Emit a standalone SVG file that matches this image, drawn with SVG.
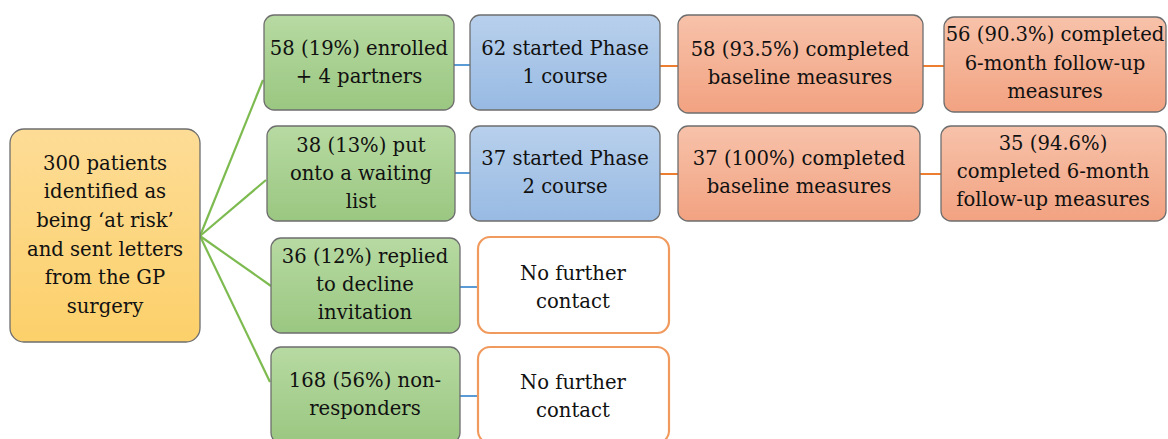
<svg xmlns="http://www.w3.org/2000/svg" width="1168" height="439" viewBox="0 0 1168 439">
<defs>
<linearGradient id="gY" x1="0" y1="0" x2="0" y2="1"><stop offset="0" stop-color="#fddc96"/><stop offset="1" stop-color="#fcd06a"/></linearGradient>
<linearGradient id="gG" x1="0" y1="0" x2="0" y2="1"><stop offset="0" stop-color="#b7daa2"/><stop offset="1" stop-color="#9ac781"/></linearGradient>
<linearGradient id="gB" x1="0" y1="0" x2="0" y2="1"><stop offset="0" stop-color="#b8d0ec"/><stop offset="1" stop-color="#98bae3"/></linearGradient>
<linearGradient id="gS" x1="0" y1="0" x2="0" y2="1"><stop offset="0" stop-color="#f7c2aa"/><stop offset="1" stop-color="#f2a281"/></linearGradient>
</defs>
<style>
.n{stroke:#6e6e6e;stroke-width:1.3}
.y{fill:url(#gY)}
.g{fill:url(#gG)}
.b{fill:url(#gB)}
.s{fill:url(#gS)}
.w{fill:#ffffff;stroke:#f19a5e;stroke-width:2.2}
text{font-family:"DejaVu Serif","Liberation Serif",serif;font-size:19.6px;fill:#111111;text-anchor:middle}
.cg{stroke:#7dbb50;stroke-width:2.2;fill:none}
.cb{stroke:#5b9bd5;stroke-width:2;fill:none}
.co{stroke:#ed7d31;stroke-width:2;fill:none}
</style>
<g id="connectors">
<line class="cg" x1="200" y1="236" x2="263" y2="80"/>
<line class="cg" x1="200" y1="236" x2="266" y2="180"/>
<line class="cg" x1="200" y1="236" x2="271" y2="286"/>
<line class="cg" x1="200" y1="236" x2="270" y2="382"/>
<line class="cb" x1="454" y1="65" x2="470" y2="65"/>
<line class="cb" x1="455" y1="173" x2="470" y2="173"/>
<line class="cb" x1="460" y1="287" x2="478" y2="287"/>
<line class="cb" x1="460" y1="396" x2="478" y2="396"/>
<line class="co" x1="660" y1="66" x2="678" y2="66"/>
<line class="co" x1="660" y1="174" x2="678" y2="174"/>
<line class="co" x1="923" y1="66" x2="944" y2="66"/>
<line class="co" x1="920" y1="174" x2="941" y2="174"/>
</g>
<g id="start">
<rect class="n y" x="10" y="129" width="190" height="213" rx="14"/>
<text x="105" y="170">300 patients</text>
<text x="105" y="198">identified as</text>
<text x="105" y="227">being ‘at risk’</text>
<text x="105" y="256">and sent letters</text>
<text x="105" y="284">from the GP</text>
<text x="105" y="313">surgery</text>
</g>
<g id="enrolled">
<rect class="n g" x="264" y="15" width="190" height="95" rx="10"/>
<text x="359" y="55">58 (19%) enrolled</text>
<text x="359" y="83">+ 4 partners</text>
</g>
<g id="phase1">
<rect class="n b" x="470" y="15" width="190" height="95" rx="10"/>
<text x="565" y="55">62 started Phase</text>
<text x="565" y="83">1 course</text>
</g>
<g id="baseline1">
<rect class="n s" x="678" y="15" width="245" height="98" rx="10"/>
<text x="800" y="56">58 (93.5%) completed</text>
<text x="800" y="84">baseline measures</text>
</g>
<g id="followup1">
<rect class="n s" x="944" y="17" width="222" height="95" rx="10"/>
<text x="1055" y="41">56 (90.3%) completed</text>
<text x="1055" y="70">6-month follow-up</text>
<text x="1055" y="98">measures</text>
</g>
<g id="waiting">
<rect class="n g" x="267" y="126" width="188" height="95" rx="10"/>
<text x="361" y="152">38 (13%) put</text>
<text x="361" y="180">onto a waiting</text>
<text x="361" y="208">list</text>
</g>
<g id="phase2">
<rect class="n b" x="470" y="126" width="190" height="95" rx="10"/>
<text x="565" y="165">37 started Phase</text>
<text x="565" y="193">2 course</text>
</g>
<g id="baseline2">
<rect class="n s" x="678" y="126" width="242" height="95" rx="10"/>
<text x="799" y="165">37 (100%) completed</text>
<text x="799" y="193">baseline measures</text>
</g>
<g id="followup2">
<rect class="n s" x="941" y="126" width="225" height="95" rx="10"/>
<text x="1053" y="150">35 (94.6%)</text>
<text x="1053" y="178">completed 6-month</text>
<text x="1053" y="206">follow-up measures</text>
</g>
<g id="declined">
<rect class="n g" x="271" y="238" width="189" height="95" rx="10"/>
<text x="365" y="263">36 (12%) replied</text>
<text x="365" y="291">to decline</text>
<text x="365" y="319">invitation</text>
</g>
<g id="nocontact1">
<rect class="w" x="478" y="237" width="191" height="96" rx="12"/>
<text x="573" y="280">No further</text>
<text x="573" y="308">contact</text>
</g>
<g id="nonresponders">
<rect class="n g" x="271" y="347" width="189" height="96" rx="10"/>
<text x="365" y="387">168 (56%) non-</text>
<text x="365" y="415">responders</text>
</g>
<g id="nocontact2">
<rect class="w" x="478" y="347" width="191" height="96" rx="12"/>
<text x="573" y="389">No further</text>
<text x="573" y="417">contact</text>
</g>
</svg>
